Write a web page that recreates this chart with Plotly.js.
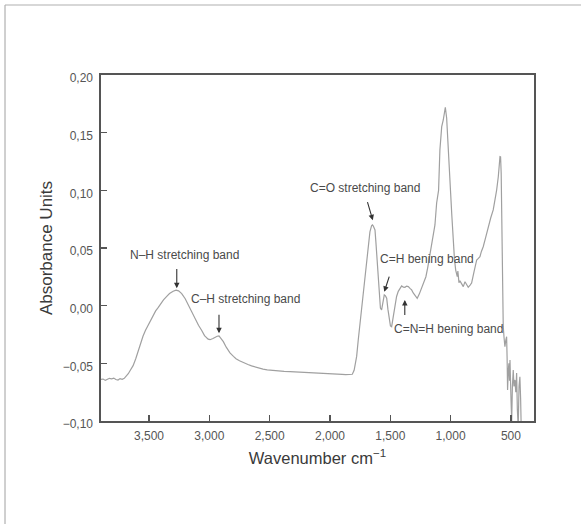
<!DOCTYPE html>
<html>
<head>
<meta charset="utf-8">
<script src="https://cdn.plot.ly/plotly-3.0.1.min.js"></script>
<style>
  html, body { margin: 0; padding: 0; background: #fff; }
  #chart { width: 581px; height: 524px; }
</style>
</head>
<body>
<div id="chart"></div>
<script>
// ---- data ----
const wavenumber = [
  3898, 3880, 3862, 3845, 3828, 3810, 3792, 3775, 3757, 3740, 3722, 3705, 3690, 3672, 3655, 3632,
  3610, 3589, 3570, 3550, 3530, 3506, 3487, 3467, 3445, 3423, 3400, 3380, 3353, 3330, 3300, 3276,
  3255, 3229, 3200, 3174, 3150, 3119, 3090, 3063, 3040, 3010, 2994, 2970, 2953, 2935, 2920, 2900,
  2884, 2860, 2829, 2800, 2779, 2750, 2732, 2700, 2680, 2650, 2622, 2590, 2555, 2520, 2470, 2420,
  2380, 2331, 2280, 2240, 2193, 2140, 2083, 2030, 1973, 1930, 1900, 1870, 1834, 1815, 1800, 1793,
  1779, 1766, 1751, 1737, 1724, 1710, 1696, 1683, 1669, 1655, 1648, 1641, 1627, 1620, 1608, 1600,
  1592, 1582, 1572, 1562, 1550, 1540, 1530, 1520, 1509, 1499, 1489, 1475, 1461, 1448, 1434, 1420,
  1406, 1392, 1379, 1365, 1351, 1337, 1323, 1310, 1296, 1286, 1277, 1260, 1240, 1222, 1205, 1190,
  1171, 1158, 1144, 1130, 1116, 1100, 1089, 1074, 1061, 1050, 1044, 1033, 1020, 1010, 1000, 990,
  978, 968, 958, 950, 945, 940, 937, 931, 923, 910, 895, 881, 868, 854, 840, 826,
  805, 784, 770, 757, 745, 730, 710, 688, 668, 647, 630, 619, 605, 597, 591, 586,
  581, 577, 573, 569, 564, 557, 550, 543, 536, 532, 528, 522, 517, 512, 508, 500,
  494, 488, 481, 475, 467, 460, 453, 447, 440, 433, 426, 420, 415
];
const absorbance = [
  -0.0640, -0.0636, -0.0648, -0.0638, -0.0630, -0.0634, -0.0628, -0.0640, -0.0645, -0.0632, -0.0638, -0.0630, -0.0615, -0.0590, -0.0560, -0.0520,
  -0.0460, -0.0390, -0.0330, -0.0265, -0.0215, -0.0165, -0.0120, -0.0080, -0.0045, -0.0015, 0.0020, 0.0050, 0.0080, 0.0105, 0.0125, 0.0135,
  0.0128, 0.0105, 0.0060, 0.0005, -0.0050, -0.0120, -0.0170, -0.0215, -0.0260, -0.0290, -0.0295, -0.0285, -0.0272, -0.0265, -0.0262, -0.0285,
  -0.0312, -0.0360, -0.0410, -0.0440, -0.0460, -0.0478, -0.0488, -0.0502, -0.0510, -0.0522, -0.0532, -0.0542, -0.0550, -0.0556, -0.0563, -0.0567,
  -0.0570, -0.0572, -0.0574, -0.0576, -0.0578, -0.0580, -0.0582, -0.0584, -0.0586, -0.0590, -0.0595, -0.0598, -0.0600, -0.0595, -0.0560, -0.0520,
  -0.0440, -0.0300, -0.0150, 0.0000, 0.0140, 0.0281, 0.0420, 0.0541, 0.0640, 0.0695, 0.0700, 0.0690, 0.0656, 0.0560, 0.0367, 0.0200,
  0.0064, -0.0020, -0.0037, 0.0030, 0.0093, 0.0085, 0.0064, -0.0030, -0.0124, -0.0175, -0.0182, -0.0090, 0.0000, 0.0080, 0.0124, 0.0155,
  0.0171, 0.0160, 0.0159, 0.0170, 0.0165, 0.0150, 0.0137, 0.0110, 0.0093, 0.0075, 0.0064, 0.0100, 0.0151, 0.0195, 0.0251, 0.0330,
  0.0440, 0.0530, 0.0613, 0.0700, 0.0890, 0.1000, 0.1350, 0.1552, 0.1610, 0.1700, 0.1720, 0.1627, 0.1410, 0.1200, 0.0977, 0.0780,
  0.0543, 0.0400, 0.0309, 0.0270, 0.0251, 0.0300, 0.0230, 0.0200, 0.0215, 0.0190, 0.0165, 0.0208, 0.0185, 0.0160, 0.0175, 0.0197,
  0.0300, 0.0396, 0.0410, 0.0425, 0.0470, 0.0511, 0.0590, 0.0685, 0.0760, 0.0830, 0.0930, 0.1000, 0.1118, 0.1210, 0.1292, 0.1290,
  0.1150, 0.0800, 0.0400, 0.0100, -0.0182, -0.0280, -0.0356, -0.0300, -0.0269, -0.0450, -0.0731, -0.0560, -0.0500, -0.0650, -0.0471, -0.0800,
  -0.1000, -0.0700, -0.0558, -0.0700, -0.0644, -0.0750, -0.0584, -0.0900, -0.1050, -0.0700, -0.0616, -0.0800, -0.1060
];

const xTickVals = [3500, 3000, 2500, 2000, 1500, 1000, 500];
const xTickText = ["3,500", "3,000", "2,500", "2,000", "1,500", "1,000", "500"];
const yTickVals = [-0.10, -0.05, 0.00, 0.05, 0.10, 0.15, 0.20];
const yTickText = ["\u22120,10", "\u22120,05", "0,00", "0,05", "0,10", "0,15", "0,20"];

const bandLabels = ["N\u2013H stretching band", "C\u2013H stretching band", "C=O stretching band", "C=H bening band", "C=N=H bening band"];
// [label x, label y] in data units
const labelPos = [[3202, 0.0440], [2704, 0.0058], [1710, 0.1020], [1192, 0.0405], [1014, -0.0202]];
// arrow tip [x, y] and tail [x, y] in data units
const arrowTip  = [[3270, 0.0150], [2920, -0.0240], [1645, 0.0740], [1550, 0.0120], [1380, 0.0050]];
const arrowTail = [[3270, 0.0330], [2920, -0.0065], [1693, 0.0910], [1505, 0.0265], [1380, -0.0095]];

// ---- chart ----
const fontFam = "'Liberation Sans', Arial, sans-serif";
const axisColor = "#555555";

const trace = {
  x: wavenumber,
  y: absorbance,
  type: "scatter",
  mode: "lines",
  line: { color: "#a0a0a0", width: 1.2 },
  hoverinfo: "skip",
  showlegend: false
};

const annotations = [];
bandLabels.forEach((t, i) => {
  annotations.push({
    x: labelPos[i][0], y: labelPos[i][1], xref: "x", yref: "y",
    text: t, showarrow: false,
    font: { family: fontFam, size: 12, color: "#4a4a4a" },
    xanchor: "center", yanchor: "middle"
  });
  annotations.push({
    x: arrowTip[i][0], y: arrowTip[i][1], xref: "x", yref: "y",
    ax: arrowTail[i][0], ay: arrowTail[i][1], axref: "x", ayref: "y",
    text: "", showarrow: true,
    arrowhead: 2, arrowsize: 1, arrowwidth: 1.1, arrowcolor: "#333333",
    standoff: 0, startstandoff: 0
  });
});

const layout = {
  width: 581,
  height: 524,
  paper_bgcolor: "#ffffff",
  plot_bgcolor: "#ffffff",
  margin: { l: 101, r: 47, t: 75, b: 103 },
  font: { family: fontFam, color: axisColor },
  xaxis: {
    range: [3898, 309],
    tickvals: xTickVals,
    ticktext: xTickText,
    ticks: "inside",
    ticklen: 6,
    tickwidth: 1.3,
    tickcolor: axisColor,
    showline: true,
    linecolor: axisColor,
    linewidth: 1.6,
    mirror: true,
    showgrid: false,
    zeroline: false,
    ticklabelstandoff: 3,
    tickfont: { family: fontFam, size: 12, color: "#555555" },
    title: { text: "Wavenumber cm<sup>\u22121</sup>", font: { family: fontFam, size: 16.5, color: "#3a3a3a" }, standoff: 10 }
  },
  yaxis: {
    range: [-0.10, 0.20],
    tickvals: yTickVals,
    ticktext: yTickText,
    ticks: "inside",
    ticklen: 6,
    tickwidth: 1.3,
    tickcolor: axisColor,
    showline: true,
    linecolor: axisColor,
    linewidth: 1.6,
    mirror: true,
    showgrid: false,
    zeroline: false,
    ticklabelshift: 3,
    ticklabelstandoff: 4,
    tickfont: { family: fontFam, size: 12, color: "#555555" },
    title: { text: "Absorbance Units", font: { family: fontFam, size: 17, color: "#3a3a3a" }, standoff: 5 }
  },
  shapes: [
    { type: "line", xref: "paper", yref: "paper", x0: -0.2217, x1: 1.12, y0: 1.2023, y1: 1.2023, line: { color: "#b0b0b0", width: 1.2 } },
    { type: "line", xref: "paper", yref: "paper", x0: -0.2217, x1: -0.2217, y0: 1.2023, y1: -0.32, line: { color: "#b0b0b0", width: 1.2 } }
  ],
  annotations: annotations
};

Plotly.newPlot("chart", [trace], layout, { displayModeBar: false, staticPlot: true });
</script>
</body>
</html>
